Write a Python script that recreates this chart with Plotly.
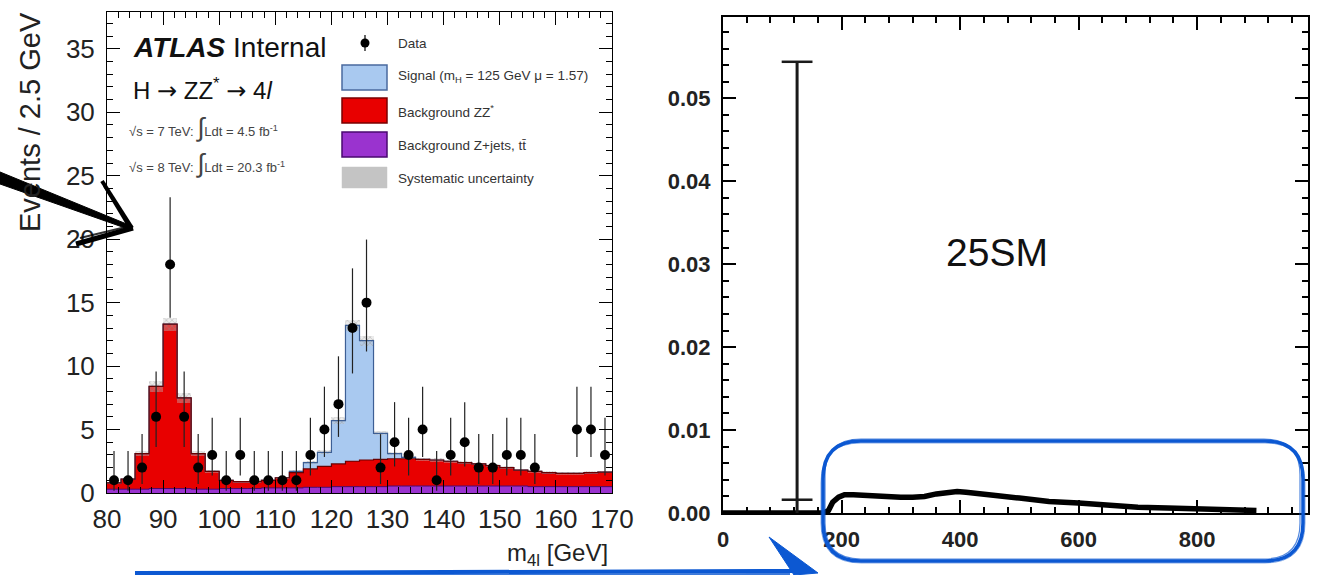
import numpy as np
import plotly.graph_objects as go

W, H = 1318, 575

# ---------------- Left panel: ATLAS H->ZZ*->4l ----------------
bin_width = 2.5
bin_centers = list(np.arange(81.25, 170, 2.5))
bin_edges = list(np.arange(80, 170.01, 2.5))

bkg_zjets = [0.3, 0.3, 0.3, 0.35, 0.35, 0.35, 0.3, 0.3,
             0.35, 0.35, 0.35, 0.4, 0.4, 0.4, 0.45, 0.45,
             0.5, 0.5, 0.5, 0.5, 0.55, 0.55, 0.55, 0.55, 0.55, 0.55,
             0.55, 0.55, 0.55, 0.55, 0.5, 0.5, 0.5, 0.5, 0.5, 0.5]
bkg_zz = [0.5, 0.8, 2.8, 8.05, 12.95, 7.15, 2.8, 1.4,
          0.65, 0.55, 0.55, 0.6, 0.8, 1.2, 1.45, 1.65,
          1.8, 2.0, 2.1, 2.15, 2.15, 2.15, 2.1, 2.05, 1.95, 1.85,
          1.75, 1.6, 1.45, 1.25, 1.2, 1.1, 1.05, 1.05, 1.1, 1.15]
signal = [0, 0, 0, 0, 0, 0, 0, 0,
          0, 0, 0, 0, 0, 0.1, 0.5, 1.1,
          3.4, 10.7, 9.4, 2.05, 0.4, 0.1, 0, 0, 0, 0,
          0, 0, 0, 0, 0, 0, 0, 0, 0, 0]
syst_half = [0.1, 0.1, 0.2, 0.45, 0.5, 0.4, 0.2, 0.1,
             0.08, 0.08, 0.08, 0.08, 0.08, 0.1, 0.12, 0.15,
             0.25, 0.45, 0.4, 0.15, 0.12, 0.12, 0.12, 0.12, 0.12, 0.12,
             0.1, 0.1, 0.1, 0.1, 0.1, 0.1, 0.1, 0.1, 0.1, 0.1]
data_counts = [1, 1, 2, 6, 18, 6, 2, 3,
               1, 3, 1, 1, 1, 1, 3, 5,
               7, 13, 15, 2, 4, 3, 5, 1, 3, 4,
               2, 2, 3, 3, 2, 0, 0, 5, 5, 3]
# tabulated 68% Poisson (Garwood) intervals: count -> (err_up, err_down)
poisson_err = {1: (2.30, 0.83), 2: (2.64, 1.29), 3: (2.92, 1.63), 4: (3.16, 1.91),
               5: (3.38, 2.16), 6: (3.58, 2.38), 7: (3.77, 2.58), 13: (4.70, 3.58),
               15: (4.97, 3.85), 18: (5.30, 4.20)}

# ---------------- Right panel: 25SM distribution ----------------
mass_x = [0, 50, 100, 118, 123, 127, 132, 150, 170, 178, 185, 195, 205, 220, 240, 260,
          280, 300, 320, 340, 360, 380, 395, 410, 430, 460, 500, 550, 600, 650, 700,
          750, 800, 850, 900]
dist_y = [0, 0, 0, 0, 0, 0, 0, 0, 0, 0.0003, 0.0013, 0.0019, 0.0022, 0.0022, 0.0021, 0.0020,
          0.0019, 0.0019, 0.0019, 0.0020, 0.0023, 0.0025, 0.0026, 0.0025, 0.0023, 0.0021,
          0.0018, 0.0014, 0.0012, 0.0009, 0.0007, 0.0006, 0.0005, 0.0004, 0.0003]
spike_mass = 125
spike_high = 0.0544
spike_low = 0.0016

# ---------------- helpers ----------------
def px(x):
    return x / W


def py(y):
    return 1 - y / H


def ppath(cmds):
    out = []
    for c in cmds:
        if isinstance(c, str):
            out.append(c)
        else:
            out.append(f"{px(c[0]):.5f},{py(c[1]):.5f}")
    return " ".join(out)


FONT = "Liberation Sans, Arial, Helvetica, sans-serif"
RED = "#e80000"
PURPLE = "#9a33cf"
SIGBLUE = "#a9c9f0"
SKETCH_BLUE = "#0c58d2"

fig = go.Figure()

red_top = [a + b for a, b in zip(bkg_zjets, bkg_zz)]
total = [a + b for a, b in zip(red_top, signal)]

fig.add_trace(go.Bar(x=bin_centers, y=bkg_zjets, width=bin_width, marker_color=PURPLE,
                     marker_line_width=0, xaxis="x", yaxis="y", showlegend=False))
fig.add_trace(go.Bar(x=bin_centers, y=bkg_zz, width=bin_width, marker_color=RED,
                     marker_line_width=0, xaxis="x", yaxis="y", showlegend=False))
fig.add_trace(go.Bar(x=bin_centers, y=signal, width=bin_width, marker_color=SIGBLUE,
                     marker_line_width=0, xaxis="x", yaxis="y", showlegend=False))
# systematic band (hatched), overlayed using explicit base
fig.add_trace(go.Bar(x=bin_centers, y=[2 * s for s in syst_half],
                     base=[t - s for t, s in zip(total, syst_half)], width=bin_width,
                     marker=dict(color="rgba(0,0,0,0)", line_width=0,
                                 pattern=dict(shape="x", fgcolor="#8a8a8a", bgcolor="rgba(200,200,200,0.35)",
                                              size=4, solidity=0.3)),
                     xaxis="x", yaxis="y", showlegend=False))

# step outlines
step_x = bin_edges
fig.add_trace(go.Scatter(x=step_x, y=total + [total[-1]], mode="lines", line_shape="hv",
                         line=dict(color="#3d5f95", width=1.2), xaxis="x", yaxis="y",
                         showlegend=False, hoverinfo="skip"))
fig.add_trace(go.Scatter(x=step_x, y=red_top + [red_top[-1]], mode="lines", line_shape="hv",
                         line=dict(color="#6a0000", width=1.2), xaxis="x", yaxis="y",
                         showlegend=False, hoverinfo="skip"))
fig.add_trace(go.Scatter(x=step_x, y=bkg_zjets + [bkg_zjets[-1]], mode="lines", line_shape="hv",
                         line=dict(color="#4a0a70", width=1), xaxis="x", yaxis="y",
                         showlegend=False, hoverinfo="skip"))

# data points
dx = [c for c, n in zip(bin_centers, data_counts) if n > 0]
dy = [n for n in data_counts if n > 0]
eu = [poisson_err[n][0] for n in dy]
ed = [poisson_err[n][1] for n in dy]
fig.add_trace(go.Scatter(x=dx, y=dy, mode="markers",
                         marker=dict(color="black", size=10),
                         error_y=dict(type="data", symmetric=False, array=eu, arrayminus=ed,
                                      color="#222", thickness=1.2, width=0),
                         xaxis="x", yaxis="y", showlegend=False))

# right panel traces
fig.add_trace(go.Scatter(x=mass_x, y=dist_y, mode="lines",
                         line=dict(color="black", width=5.5), xaxis="x2", yaxis="y2",
                         showlegend=False))
fig.add_trace(go.Scatter(x=[spike_mass, spike_mass], y=[spike_low, spike_high], mode="lines+markers",
                         line=dict(color="#1a1a1a", width=3),
                         marker=dict(symbol="line-ew-open", size=22, line=dict(width=2.5, color="black")),
                         xaxis="x2", yaxis="y2", showlegend=False))
fig.add_trace(go.Scatter(x=[spike_mass, spike_mass], y=[0, spike_low], mode="lines",
                         line=dict(color="#1a1a1a", width=3), xaxis="x2", yaxis="y2",
                         showlegend=False))

axis_common = dict(showgrid=False, zeroline=False, showline=True, linecolor="black",
                   mirror="allticks", ticks="inside", tickcolor="black", automargin=False)

fig.update_layout(
    width=W, height=H, margin=dict(l=0, r=0, t=0, b=0, autoexpand=False),
    paper_bgcolor="white", plot_bgcolor="white",
    barmode="stack", bargap=0, showlegend=False,
    xaxis=dict(domain=[px(107), px(612)], range=[80, 170], anchor="y",
               tick0=80, dtick=10, ticklen=13, tickwidth=1, linewidth=1,
               minor=dict(dtick=2, ticklen=6, ticks="inside", tickcolor="black"),
               tickfont=dict(family=FONT, size=26, color="#222"), ticklabelstandoff=3,
               **axis_common),
    yaxis=dict(domain=[py(493), py(12)], range=[0, 37.9], anchor="x",
               tick0=0, dtick=5, ticklen=13, tickwidth=1, linewidth=1,
               minor=dict(dtick=1, ticklen=6, ticks="inside", tickcolor="black"),
               tickfont=dict(family=FONT, size=26, color="#222"), ticklabelstandoff=6,
               **axis_common),
    xaxis2=dict(domain=[px(723), px(1308)], range=[0, 987], anchor="y2",
                tick0=0, dtick=200, ticklen=13, tickwidth=1.5, linewidth=2,
                minor=dict(dtick=40, ticklen=6, ticks="inside", tickcolor="black"),
                tickfont=dict(family=FONT, size=22, color="#222", weight="bold"), ticklabelstandoff=6,
                **axis_common),
    yaxis2=dict(domain=[py(513), py(17)], range=[0, 0.0598], anchor="x2",
                tick0=0, dtick=0.01, tickformat=".2f", ticklen=13, tickwidth=1.5, linewidth=2,
                minor=dict(dtick=0.002, ticklen=6, ticks="inside", tickcolor="black"),
                tickfont=dict(family=FONT, size=22, color="#222", weight="bold"), ticklabelstandoff=6,
                **axis_common),
)

# ---------------- annotations ----------------
ann = []


def text(x, y, s, size, xanchor="left", yanchor="middle", color="#111", angle=0):
    ann.append(dict(x=px(x), y=py(y), xref="paper", yref="paper", text=s, showarrow=False,
                    xanchor=xanchor, yanchor=yanchor, textangle=angle,
                    font=dict(family=FONT, size=size, color=color)))


ARW = "<span style='font-family:DejaVu Sans'>→</span>"
text(131, 47, "<b><i>ATLAS</i></b> Internal", 28)
text(131, 89, f"H {ARW} ZZ<sup>*</sup> {ARW} 4<i>l</i>", 24)
text(127, 127, "√s = 7 TeV: <span style='font-size:26px'>∫</span>Ldt = 4.5 fb<sup>-1</sup>", 13, color="#444")
text(127, 163, "√s = 8 TeV: <span style='font-size:26px'>∫</span>Ldt = 20.3 fb<sup>-1</sup>", 13, color="#444")
text(30, 122, "Events / 2.5 GeV", 29, xanchor="center", angle=-90, color="#222")
text(610, 537, "m<sub>4l</sub> [GeV]", 24, xanchor="right", yanchor="top", color="#222")

legend_rows = [(43, "Data"), (77, "Signal (m<sub>H</sub> = 125 GeV μ = 1.57)"),
               (111, "Background ZZ<sup>*</sup>"), (145, "Background Z+jets, tt\u0304"),
               (178, "Systematic uncertainty")]
for yy, s in legend_rows:
    text(396, yy, s, 13.5, color="#333")

text(997, 253, "25SM", 39, xanchor="center", color="#111")

# ---------------- shapes ----------------
shapes = []


def rect(x0, y0, x1, y1, fill, line, lw=1.5):
    shapes.append(dict(type="rect", xref="paper", yref="paper", x0=px(x0), x1=px(x1),
                       y0=py(y1), y1=py(y0), fillcolor=fill, line=dict(color=line, width=lw)))


rect(342, 65, 387, 90, SIGBLUE, "#4a6a9e")
rect(342, 98, 387, 123, RED, "#7a0000")
rect(342, 132, 387, 157, PURPLE, "#4a0a70")
rect(342, 167, 387, 188, "#c4c4c4", "#c4c4c4", 0.5)
# data legend marker
shapes.append(dict(type="line", xref="paper", yref="paper", x0=px(365), x1=px(365), y0=py(35), y1=py(51),
                   line=dict(color="black", width=1.2)))
shapes.append(dict(type="circle", xref="paper", yref="paper", x0=px(360.5), x1=px(369.5), y0=py(47.5),
                   y1=py(38.5), fillcolor="black", line=dict(color="black", width=0)))


# hand-drawn rounded rectangle (blue)
def rrect(x0, y0, x1, y1, r, lw, color, opacity=1.0):
    d = ppath(["M", (x0 + r, y0), "L", (x1 - r, y0), "Q", (x1, y0), (x1, y0 + r),
               "L", (x1, y1 - r), "Q", (x1, y1), (x1 - r, y1), "L", (x0 + r, y1),
               "Q", (x0, y1), (x0, y1 - r), "L", (x0, y0 + r), "Q", (x0, y0), (x0 + r, y0), "Z"])
    shapes.append(dict(type="path", xref="paper", yref="paper", path=d,
                       line=dict(color=color, width=lw), opacity=opacity))


rrect(823, 441, 1303, 561, 38, 3.5, SKETCH_BLUE)
rrect(825, 439, 1300, 559, 36, 1.2, SKETCH_BLUE, 0.7)
rrect(821, 443, 1305, 563, 40, 1.0, SKETCH_BLUE, 0.5)


def line(x0, y0, x1, y1, lw, color, opacity=1.0):
    shapes.append(dict(type="line", xref="paper", yref="paper", x0=px(x0), y0=py(y0), x1=px(x1), y1=py(y1),
                       line=dict(color=color, width=lw), opacity=opacity))


def poly(pts, color):
    cmds = ["M", pts[0]]
    for p in pts[1:]:
        cmds += ["L", p]
    cmds.append("Z")
    shapes.append(dict(type="path", xref="paper", yref="paper", path=ppath(cmds),
                       fillcolor=color, line=dict(color=color, width=1)))


# black hand-drawn arrow (left)
poly([(0, 172), (0, 184), (131, 230), (129, 225)], "black")
line(102, 181, 132, 228, 4, "black")
line(104, 186, 128, 226, 2, "black")
line(76, 244, 133, 228, 5, "black")
line(80, 238, 130, 226, 2, "black", 0.8)

# blue hand-drawn arrow (bottom)
line(135, 573, 800, 571, 4, SKETCH_BLUE)
line(140, 575, 790, 574, 2, SKETCH_BLUE, 0.8)
poly([(769, 537), (818, 573), (794, 575)], SKETCH_BLUE)

fig.update_layout(annotations=ann, shapes=shapes)

fig.write_html("out.html", config={"displayModeBar": False},
               post_script="document.body.style.margin='0';document.body.style.overflow='hidden';")
